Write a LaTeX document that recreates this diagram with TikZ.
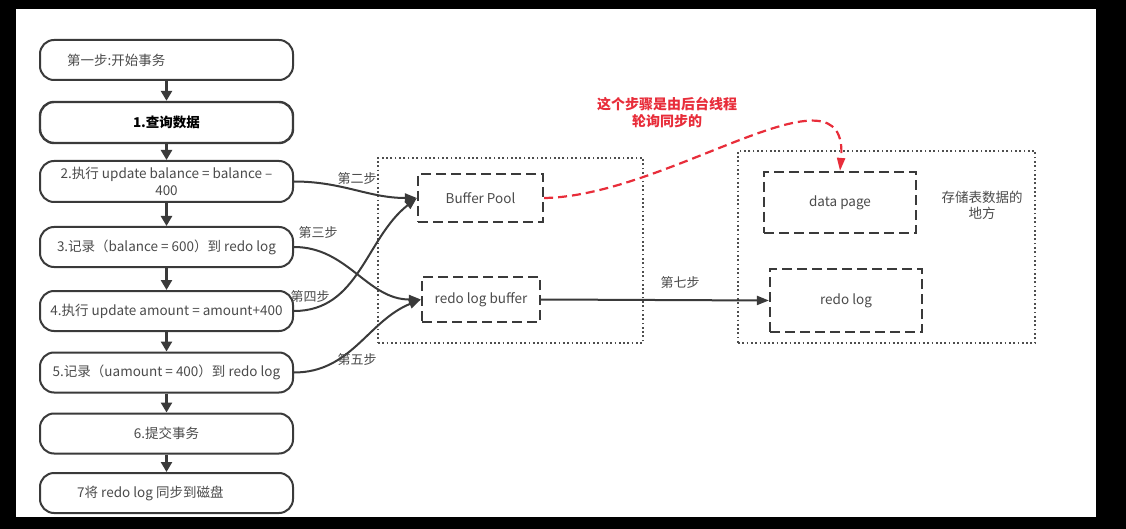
\documentclass[tikz,border=0pt]{standalone}
\usepackage{fontspec}
\setmainfont{Noto Sans CJK SC}
\usetikzlibrary{arrows.meta}
\definecolor{ln}{RGB}{58,58,58}
\definecolor{tx}{RGB}{75,75,75}
\definecolor{rd}{RGB}{232,45,58}
\tikzset{
  lbox/.style={draw=ln, line width=2pt, rounded corners=14pt, minimum width=253pt, inner sep=0pt, fill=white},
  dashbox/.style={draw=ln, line width=2.2pt, dash pattern=on 10pt off 5pt, inner sep=0pt},
  dotbox/.style={draw=ln!90, line width=1.7pt, dash pattern=on 1.7pt off 2.6pt, inner sep=0pt},
  vflow/.style={draw=ln, line width=2.6pt, -{Triangle[length=10pt,width=11pt]}},
  conn/.style={draw=ln, line width=2pt, -{Triangle[length=12pt,width=9pt]}},
  txt/.style={text=tx, font=\fontsize{13.5pt}{17pt}\selectfont, inner sep=0pt},
  lbl/.style={text=tx, font=\fontsize{13pt}{16pt}\selectfont, inner sep=0pt},
}
\begin{document}
\begin{tikzpicture}[x=1pt,y=-1pt]
\fill[black] (0,0) rectangle (1126,529);
\fill[white] (16,9) rectangle (1096,517);
\useasboundingbox (0,0) rectangle (1126,529);

% dotted containers
\node[dotbox, minimum width=265pt, minimum height=185pt] (mid) at (510.5,250.5) {};
\node[dotbox, minimum width=297pt, minimum height=192pt] (store) at (886.5,247) {};

% left column
\node[lbox, minimum height=40pt] (b1) at (166.5,60) {};
\node[txt, anchor=west] (t1) at (67,60) {第一步:开始事务};
\node[lbox, minimum height=41pt, line width=2.4pt, font=\bfseries\fontsize{13.5pt}{17pt}\selectfont, text=black] (b2) at (166.5,122.5) {1.查询数据};
\node[lbox, minimum height=41pt, txt, align=center, inner sep=0pt] (b3) at (166.5,181.5) {2.执行 update balance = balance –\\400};
\node[lbox, minimum height=40pt, txt] (b4) at (166.5,247) {3.记录（balance = 600）到 redo log};
\node[lbox, minimum height=40pt, txt] (b5) at (166.5,311) {4.执行 update amount = amount+400};
\node[lbox, minimum height=40pt, txt] (b6) at (166.5,372.5) {5.记录（uamount = 400）到 redo log};
\node[lbox, minimum height=40pt, txt] (b7) at (166.5,433.5) {6.提交事务};
\node[lbox, minimum height=40pt] (b8) at (166.5,493) {};
\node[txt, anchor=west] (t8) at (77,493) {7将 redo log 同步到磁盘};

\draw[vflow] (b1) -- (b2);
\draw[vflow] (b2) -- (b3);
\draw[vflow] (b3) -- (b4);
\draw[vflow] (b4) -- (b5);
\draw[vflow] (b5) -- (b6);
\draw[vflow] (b6) -- (b7);
\draw[vflow] (b7) -- (b8);

% buffers
\node[dashbox, minimum width=125pt, minimum height=48pt, txt] (bp) at (480.5,198) {Buffer Pool};
\node[dashbox, minimum width=118pt, minimum height=45pt, txt] (rlb) at (481,299.5) {redo log buffer};
\node[dashbox, minimum width=152pt, minimum height=61pt, txt] (dp) at (840,202.5) {data page};
\node[dashbox, minimum width=152pt, minimum height=63pt, txt] (rl) at (846,300.5) {redo log};
\node[txt, align=center, font=\fontsize{13.5pt}{16pt}\selectfont] (note) at (982,205) {存储表数据的\\地方};

% connectors
\draw[conn] (b3.east) to[out=0,in=180] (bp.west);
\draw[conn] (b4.east) to[out=0,in=180] (rlb.west);
\draw[conn] (b5.east) to[out=0,in=218] (bp.west);
\draw[conn] (b6.east) to[out=0,in=202] (rlb.west);
\draw[conn] (rlb.east) -- (rl.west);

\node[lbl] (l2) at (357,179) {第二步};
\node[lbl] (l3) at (318,233) {第三步};
\node[lbl] (l4) at (310,297) {第四步};
\node[lbl] (l5) at (357,360) {第五步};
\node[lbl] (l7) at (680,283) {第七步};

% red background sync
\draw[rd, line width=2.2pt, dash pattern=on 9pt off 5pt, -{Triangle[length=13pt,width=8pt]}]
  (bp.east) .. controls (670,196) and (850,55) .. (dp.north);
\node[text=rd, font=\bfseries\fontsize{14pt}{17pt}\selectfont, align=center, inner sep=0pt] (red) at (667,113) {这个步骤是由后台线程\\轮询同步的};
\end{tikzpicture}
\end{document}
